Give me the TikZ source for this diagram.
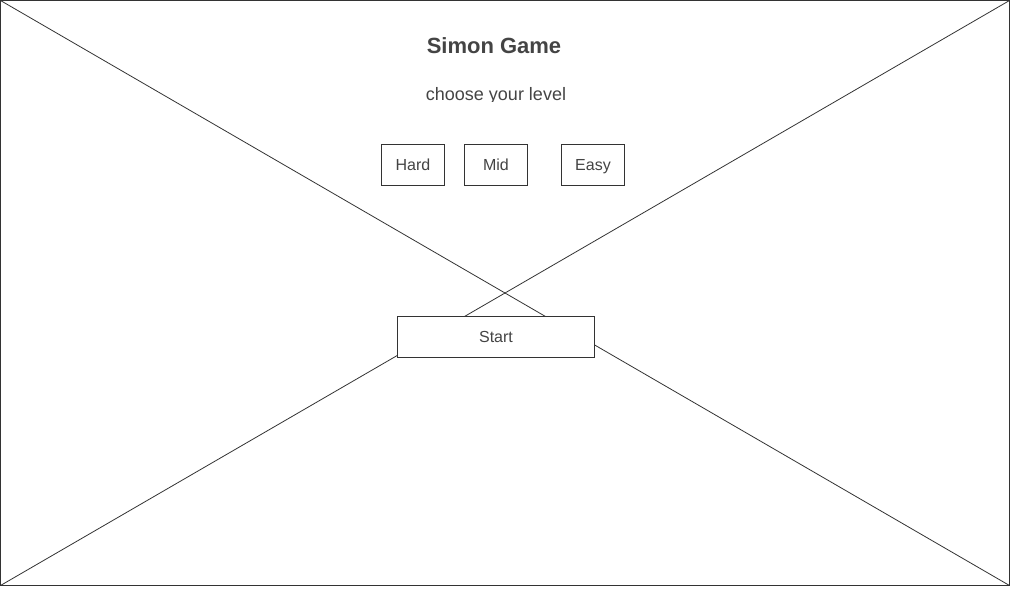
\documentclass[tikz,border=0pt]{standalone}
\usepackage{fontspec}
\setmainfont{Liberation Sans}
\definecolor{wire}{HTML}{333333}
\definecolor{ink}{HTML}{444444}

\begin{document}
\begin{tikzpicture}[x=1pt,y=-1pt,line width=1pt,
  levelbtn/.style={draw=wire,fill=white,minimum width=63pt,minimum height=41pt,inner sep=0pt,
    text=ink,font=\fontsize{16}{19}\selectfont,text height=11.5pt,text depth=0pt},
  startbtn/.style={levelbtn,minimum width=197pt}]

\useasboundingbox (0,0) rectangle (1024,600);

% frame of the wireframe with its cross
\draw [wire](0.5,0.5) rectangle (1009.5,585.5);
\coordinate (tl) at (0.5,0.5);
\coordinate (tr) at (1009.5,0.5);
\coordinate (bl) at (0.5,585.5);
\coordinate (br) at (1009.5,585.5);
\draw [wire,line width=0.8pt](tl)--(br);
\draw [wire,line width=0.8pt](tr)--(bl);

\node[ink,anchor=base,font=\fontsize{22}{26}\selectfont\bfseries] (title) at(494,53) {Simon Game};

\begin{scope}
\clip (300,60) rectangle (700,101.5);
\node[ink,anchor=base,font=\fontsize{18}{22}\selectfont] (subtitle) at(496,100) {choose your level};
\end{scope}

% level buttons
\node[levelbtn] (hard) at(413,164.5) {Hard};
\node[levelbtn] (mid) at(496,164.5) {Mid};
\node[levelbtn] (easy) at(593,164.5) {Easy};

\node[startbtn] (start) at(496,336.5) {Start};

\end{tikzpicture}
\end{document}
